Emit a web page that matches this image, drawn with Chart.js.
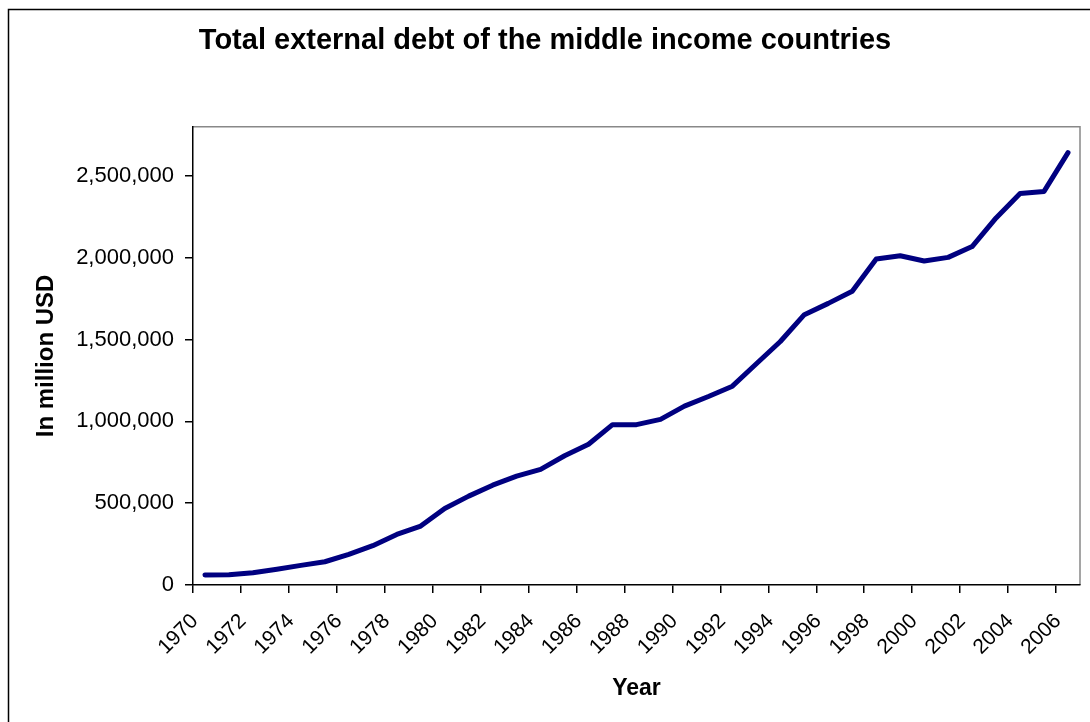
<!DOCTYPE html>
<html lang="en">
<head>
    <meta charset="UTF-8">
    <title>Total external debt of the middle income countries</title>
    <script src="https://cdn.jsdelivr.net/npm/chart.js"></script>
    <style>
        body {
            margin: 0;
            background: #fff;
        }
        #debtChart {
            display: block;
        }
    </style>
</head>
<body>
    <canvas id="debtChart" width="1090" height="722"></canvas>

    <script>
        // Years on the category axis
        const years = ['1970', '1971', '1972', '1973', '1974', '1975', '1976', '1977', '1978', '1979',
            '1980', '1981', '1982', '1983', '1984', '1985', '1986', '1987', '1988', '1989',
            '1990', '1991', '1992', '1993', '1994', '1995', '1996', '1997', '1998', '1999',
            '2000', '2001', '2002', '2003', '2004', '2005', '2006'];

        // Total external debt, million USD
        const debt = [61000, 62000, 75000, 96000, 120000, 142000, 187000, 240000, 309000, 360000,
            468000, 543000, 610000, 665000, 707000, 790000, 860000, 980000, 980000, 1012000,
            1093000, 1152000, 1215000, 1352000, 1488000, 1652000, 1721000, 1795000, 1992000, 2012000,
            1980000, 2002000, 2068000, 2243000, 2392000, 2405000, 2642000];

        // Value axis ticks
        const yTicks = [0, 500000, 1000000, 1500000, 2000000, 2500000];
        const yMax = 2800000;

        const fontFamily = 'Arial, "Liberation Sans", sans-serif';

        // outer chart border + grey top/right edge of the plot area
        const framePlugin = {
            id: 'frame',
            beforeDraw(chart) {
                const { ctx, chartArea: a } = chart;
                ctx.save();
                ctx.fillStyle = '#fff';
                ctx.fillRect(0, 0, chart.width, chart.height);
                ctx.strokeStyle = '#000';
                ctx.lineWidth = 1.5;
                ctx.beginPath();
                ctx.moveTo(8.5, chart.height);
                ctx.lineTo(8.5, 9.5);
                ctx.lineTo(chart.width, 9.5);
                ctx.stroke();
                ctx.strokeStyle = '#888';
                ctx.beginPath();
                ctx.moveTo(a.left, a.top);
                ctx.lineTo(a.right, a.top);
                ctx.lineTo(a.right, a.bottom);
                ctx.stroke();
                ctx.restore();
            }
        };

        const ctx = document.getElementById('debtChart').getContext('2d');
        new Chart(ctx, {
            type: 'line',
            data: {
                labels: years,
                datasets: [{
                    label: 'Total external debt',
                    data: debt,
                    borderColor: '#000080',
                    borderWidth: 5,
                    pointRadius: 0,
                    tension: 0,
                    fill: false,
                    borderJoinStyle: 'round',
                    borderCapStyle: 'round'
                }]
            },
            options: {
                responsive: false,
                animation: false,
                layout: {
                    padding: 0
                },
                plugins: {
                    legend: { display: false },
                    tooltip: { enabled: false },
                    title: {
                        display: true,
                        text: 'Total external debt of the middle income countries',
                        color: '#000',
                        font: { family: fontFamily, size: 29, weight: 'bold' },
                        padding: { top: 24, bottom: 68 }
                    }
                },
                scales: {
                    x: {
                        type: 'category',
                        offset: true,
                        grid: {
                            drawOnChartArea: false,
                            drawTicks: true,
                            tickLength: 8,
                            offset: true,
                            lineWidth: 1.5,
                            tickColor: c => (c.index % 2 === 0 ? '#000' : 'rgba(0,0,0,0)')
                        },
                        border: { color: '#000', width: 1.5 },
                        ticks: {
                            autoSkip: false,
                            minRotation: 45,
                            maxRotation: 45,
                            padding: 16,
                            labelOffset: -10,
                            color: '#000',
                            font: { family: fontFamily, size: 21 },
                            callback: (v, i) => (i % 2 === 0 ? years[i] : '')
                        },
                        title: {
                            display: true,
                            text: 'Year',
                            color: '#000',
                            font: { family: fontFamily, size: 23, weight: 'bold' },
                            padding: { top: 0, bottom: 20 }
                        },
                        afterFit: s => {
                            s.height = 137;
                            s.paddingLeft = 0;
                            s.paddingRight = 10;
                        }
                    },
                    y: {
                        min: 0,
                        max: yMax,
                        afterBuildTicks: s => { s.ticks = yTicks.map(v => ({ value: v })); },
                        grid: {
                            drawOnChartArea: false,
                            drawTicks: true,
                            tickLength: 8,
                            lineWidth: 1.5,
                            tickColor: '#000'
                        },
                        border: { color: '#000', width: 1.5 },
                        ticks: {
                            padding: 11,
                            color: '#000',
                            font: { family: fontFamily, size: 22 },
                            callback: v => v.toLocaleString('en-US')
                        },
                        title: {
                            display: true,
                            text: 'In million USD',
                            color: '#000',
                            font: { family: fontFamily, size: 24, weight: 'bold' },
                            padding: { top: 32, bottom: 0 }
                        },
                        afterFit: s => { s.width = 193; }
                    }
                }
            },
            plugins: [framePlugin]
        });
    </script>
</body>
</html>
